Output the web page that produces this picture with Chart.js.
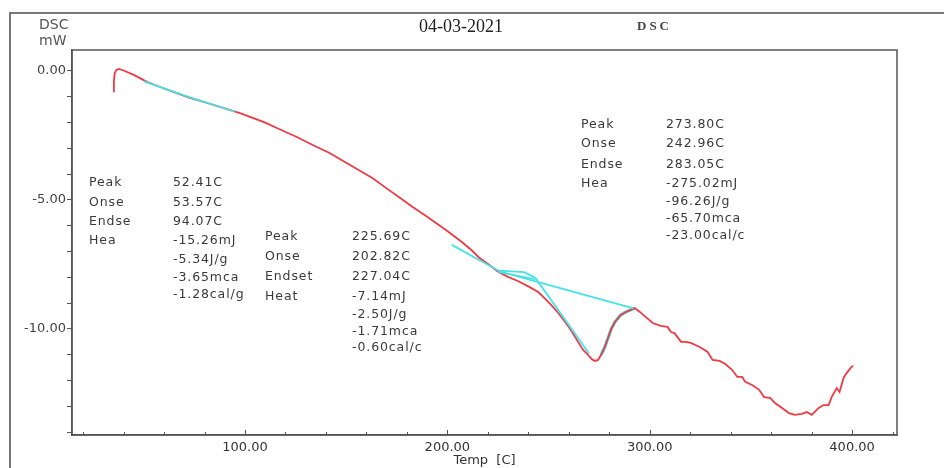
<!DOCTYPE html>
<html>
<head>
<meta charset="utf-8">
<script src="https://cdn.jsdelivr.net/npm/chart.js@4/dist/chart.umd.min.js"></script>
<style>
html,body{margin:0;padding:0;background:#fff;}
#wrap{width:944px;height:468px;position:relative;}
</style>
</head>
<body>
<div id="wrap"><canvas id="c" width="944" height="468"></canvas></div>
<script>
// ---- data ----
const temps = [35.0,35.2,35.6,36.4,37.6,40,45,51.8,58,64.6,72,81.3,90,97.5,102.5,110,115.7,125.6,133,141.8,150,157,162.9,170,176,182.5,190,199.3,207,212,215.5,220.4,225.3,230,235.1,240,244.9,248,251.3,255,258.2,261.5,264.6,267,269.5,271.5,273,274.5,276,277.8,279.4,281,282.8,285.7,288,290.6,292.6,295,297.5,301.5,305.4,308.8,310.5,312.2,315.5,317.9,320.3,324.7,328.6,331.1,334.5,337.4,340.8,343.3,345.7,347.2,350.6,354.1,356.5,359.5,361.9,365.4,368.8,371.7,375.2,377.6,380.1,383.5,385.9,388.4,389.9,392.4,393.8,395.8,397.3,399.3,400.5];
const dsc = [-0.80,-0.40,-0.10,0.04,0.08,0.02,-0.15,-0.43,-0.62,-0.81,-1.02,-1.24,-1.45,-1.63,-1.78,-2.00,-2.21,-2.56,-2.85,-3.18,-3.56,-3.88,-4.15,-4.55,-4.88,-5.25,-5.65,-6.16,-6.62,-6.95,-7.22,-7.50,-7.79,-7.98,-8.15,-8.35,-8.57,-8.80,-9.07,-9.40,-9.73,-10.10,-10.50,-10.80,-11.00,-11.18,-11.24,-11.20,-11.00,-10.70,-10.35,-10.00,-9.73,-9.46,-9.35,-9.26,-9.19,-9.33,-9.50,-9.77,-9.88,-9.92,-10.12,-10.16,-10.50,-10.50,-10.54,-10.70,-10.89,-11.20,-11.24,-11.36,-11.59,-11.86,-11.86,-12.05,-12.17,-12.36,-12.64,-12.67,-12.87,-13.06,-13.26,-13.33,-13.29,-13.22,-13.33,-13.06,-12.95,-12.95,-12.64,-12.29,-12.44,-11.90,-11.71,-11.51,-11.42];

// cyan analysis lines (baselines / tangents)
const base1T = [50, 72, 95];
const base1Y = [-0.40, -1.00, -1.57];
const base2T = [202.2, 225.3, 238, 243.5];
const base2Y = [-6.74, -7.74, -7.80, -8.02];
const base2bT = [225.3, 243.5];
const base2bY = [-7.79, -8.07];
const tangent3T = [243.5, 270];
const tangent3Y = [-8.02, -10.95];
const base3T = [225.3, 292];
const base3Y = [-7.76, -9.20];
const rise3T = [276, 277.8, 279.4, 281, 282.8, 285.7, 288, 290.6, 292.6];
const rise3Y = [-11.00, -10.70, -10.35, -10.00, -9.73, -9.46, -9.35, -9.26, -9.19];

// axes ticks
const xTickValues = [20,40,60,80,100,120,140,160,180,200,220,240,260,280,300,320,340,360,380,400,420];
const xLabelValues = [100,200,300,400];
const yTickValues = [0,-1,-2,-3,-4,-5,-6,-7,-8,-9,-10,-11,-12,-13,-14];
const yLabelValues = [0,-5,-10];

// annotation texts
const ann1Names = ["Peak","Onse","Endse","Hea"];
const ann1Vals = ["52.41C","53.57C","94.07C","-15.26mJ","-5.34J/g","-3.65mca","-1.28cal/g"];
const ann2Names = ["Peak","Onse","Endset","Heat"];
const ann2Vals = ["225.69C","202.82C","227.04C","-7.14mJ","-2.50J/g","-1.71mca","-0.60cal/c"];
const ann3Names = ["Peak","Onse","Endse","Hea"];
const ann3Vals = ["273.80C","242.96C","283.05C","-275.02mJ","-96.26J/g","-65.70mca","-23.00cal/c"];

const pts = (xs, ys) => xs.map((x, i) => ({x: x, y: ys[i]}));
const RED = '#ee3a45';
const CYAN = '#45e3e6';

function cyanSet(xs, ys, order, w) {
  return {data: pts(xs, ys), borderColor: CYAN, borderWidth: w || 1.8, pointRadius: 0, tension: 0, order: order, fill: false};
}

const overlay = {
  id: 'overlay',
  afterDraw(chart) {
    const ctx = chart.ctx;
    const a = chart.chartArea;
    const xs = chart.scales.x;
    ctx.save();
    // outer frame
    ctx.strokeStyle = '#777';
    ctx.lineWidth = 2;
    ctx.beginPath();
    ctx.moveTo(10, 468); ctx.lineTo(10, 13); ctx.lineTo(944, 13);
    ctx.stroke();
    // plot box
    ctx.strokeStyle = '#555';
    ctx.lineWidth = 1.5;
    ctx.strokeRect(a.left, a.top, a.right - a.left, a.bottom - a.top);
    // inward x ticks
    ctx.lineWidth = 1;
    xTickValues.forEach(v => {
      const px = Math.round(xs.getPixelForValue(v)) + 0.5;
      ctx.beginPath();
      ctx.moveTo(px, a.bottom);
      ctx.lineTo(px, a.bottom - (xLabelValues.includes(v) ? 5 : 3));
      ctx.stroke();
    });
    // header
    ctx.fillStyle = '#555';
    ctx.textBaseline = 'middle';
    ctx.textAlign = 'left';
    ctx.font = '14px "DejaVu Sans"';
    ctx.fillText('DSC', 39, 25);
    ctx.fillText('mW', 39, 41);
    ctx.fillStyle = '#222';
    ctx.font = '18px "Liberation Serif"';
    ctx.fillText('04-03-2021', 419, 27);
    ctx.fillStyle = '#444';
    ctx.font = 'bold 13px "Liberation Serif"';
    if ('letterSpacing' in ctx) ctx.letterSpacing = '3px';
    ctx.fillText('DSC', 637, 27);
    // annotations
    ctx.fillStyle = '#3a3a3a';
    ctx.font = '12.5px "DejaVu Sans"';
    if ('letterSpacing' in ctx) ctx.letterSpacing = '0.9px';
    function block(names, vals, xn, xv, rows) {
      names.forEach((t, i) => ctx.fillText(t, xn, rows[i]));
      vals.forEach((t, i) => ctx.fillText(t, xv, rows[i]));
    }
    block(ann1Names, ann1Vals, 89, 173, [183, 203, 222, 241, 260, 278, 295]);
    block(ann2Names, ann2Vals, 265, 352, [237, 257, 277, 297, 315, 332, 348]);
    block(ann3Names, ann3Vals, 581, 666, [125, 144, 165, 184, 202, 219, 236]);
    ctx.restore();
  }
};

new Chart(document.getElementById('c'), {
  type: 'line',
  data: {
    datasets: [
      cyanSet(base1T, base1Y, 0, 1.8),
      cyanSet(base2T, base2Y, 0, 1.8),
      cyanSet(base2bT, base2bY, 0, 1.5),
      cyanSet(tangent3T, tangent3Y, 0, 1.8),
      cyanSet(base3T, base3Y, 0, 1.8),
      {data: pts(temps, dsc), borderColor: RED, borderWidth: 1.8, pointRadius: 0, tension: 0, order: 1, fill: false},
      cyanSet(rise3T, rise3Y, 2, 3.2)
    ]
  },
  options: {
    responsive: false,
    animation: false,
    events: [],
    layout: {padding: {left: 0, top: 50, right: 47, bottom: 0}},
    plugins: {legend: {display: false}, tooltip: {enabled: false}},
    scales: {
      x: {
        type: 'linear',
        min: 14.5,
        max: 422.2,
        afterBuildTicks: s => { s.ticks = xTickValues.map(v => ({value: v})); },
        afterFit: s => { s.height = 33; },
        grid: {drawOnChartArea: false, drawTicks: false},
        border: {display: true, color: '#555', width: 1.5},
        ticks: {
          autoSkip: false, maxRotation: 0, padding: 5,
          color: '#333',
          font: {family: '"DejaVu Sans"', size: 13},
          callback: v => xLabelValues.includes(v) ? v.toFixed(2) : ''
        },
        title: {display: true, text: 'Temp  [C]', color: '#333', font: {family: '"DejaVu Sans"', size: 13}, padding: 0}
      },
      y: {
        type: 'linear',
        min: -14.11,
        max: 0.814,
        afterBuildTicks: s => { s.ticks = yTickValues.map(v => ({value: v})); },
        afterFit: s => { s.width = 72; },
        grid: {drawOnChartArea: false, drawTicks: true, tickLength: 5, color: '#555'},
        border: {display: true, color: '#555', width: 1.5},
        ticks: {
          autoSkip: false, padding: 1,
          color: '#444',
          font: {family: '"DejaVu Sans"', size: 13},
          callback: v => yLabelValues.includes(v) ? v.toFixed(2) : ''
        }
      }
    }
  },
  plugins: [overlay]
});
</script>
</body>
</html>
